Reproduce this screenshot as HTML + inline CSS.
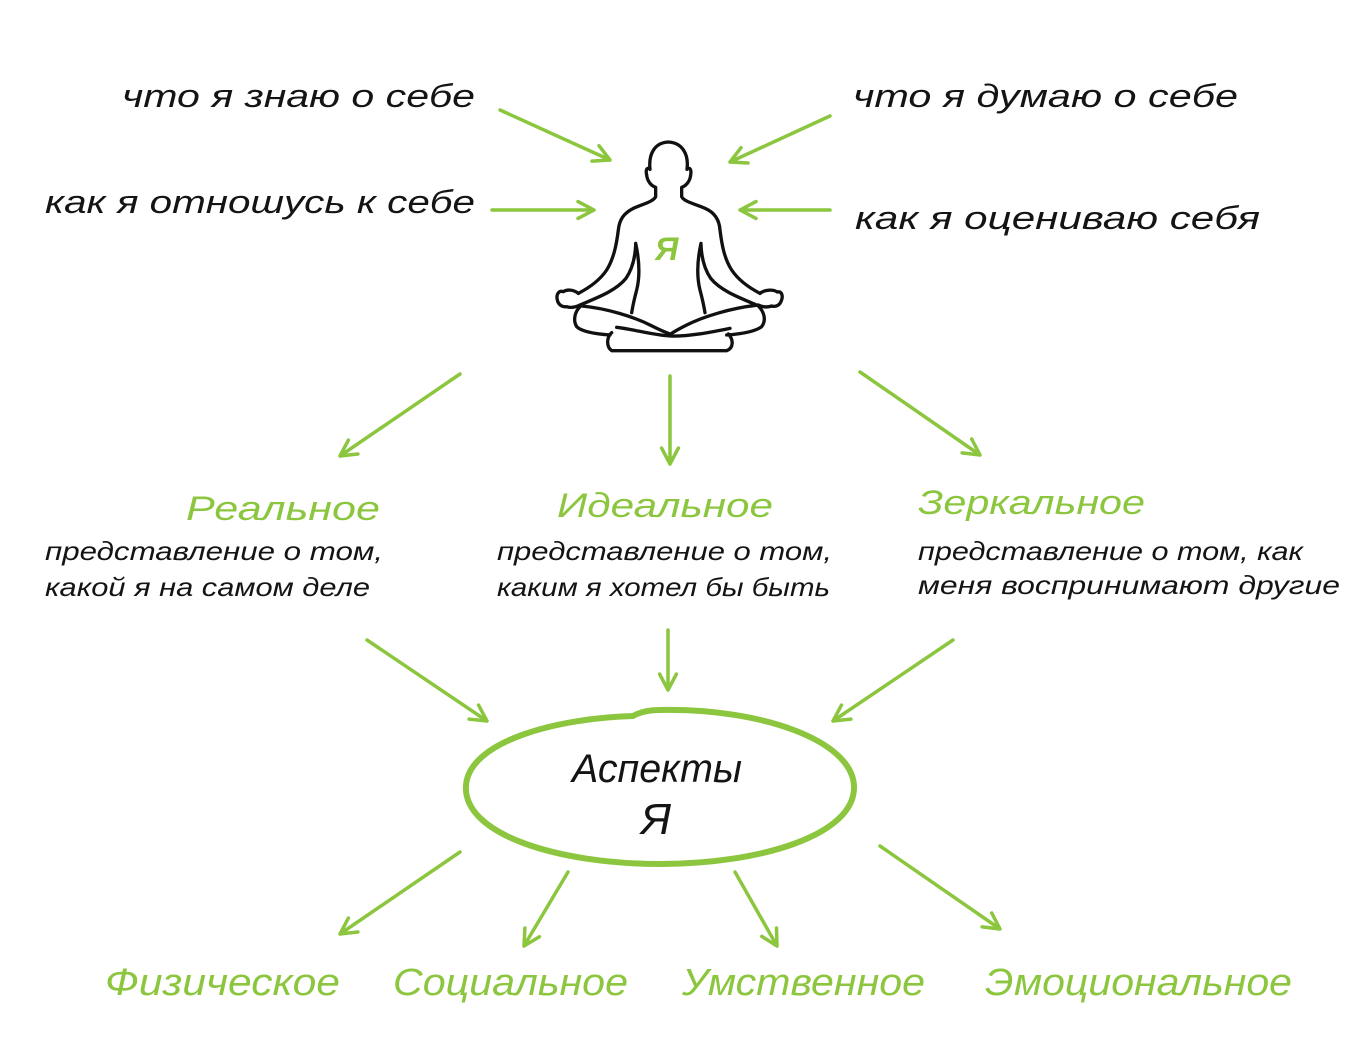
<!DOCTYPE html>
<html>
<head>
<meta charset="utf-8">
<style>
html,body{margin:0;padding:0;background:#fff;}
svg{display:block;}
.hw{font-family:"Liberation Sans","DejaVu Sans",sans-serif;font-style:italic;fill:#141414;}
.gr{font-family:"Liberation Sans","DejaVu Sans",sans-serif;font-style:italic;fill:#8cc63f;}
.ar{stroke:#8cc63f;stroke-width:3.5;fill:none;stroke-linecap:round;stroke-linejoin:round;}
</style>
</head>
<body>
<svg width="1366" height="1060" viewBox="0 0 1366 1060" xmlns="http://www.w3.org/2000/svg">
<rect width="1366" height="1060" fill="#fff"/>

<!-- top labels -->
<text class="hw" x="122" y="107" font-size="32" textLength="353" lengthAdjust="spacingAndGlyphs">что я знаю о себе</text>
<text class="hw" x="45" y="213" font-size="32" textLength="430" lengthAdjust="spacingAndGlyphs">как я отношусь к себе</text>
<text class="hw" x="853" y="107" font-size="32" textLength="385" lengthAdjust="spacingAndGlyphs">что я думаю о себе</text>
<text class="hw" x="855" y="229" font-size="32" textLength="405" lengthAdjust="spacingAndGlyphs">как я оцениваю себя</text>

<!-- top arrows -->
<g class="ar">
<path d="M500,110 L610,160 M599,145.7 L610,160 L592,161.1"/>
<path d="M830,116 L730,162 M748,163 L730,162 L741,147.7"/>
<path d="M492,210 L594,210 M578,201.6 L594,210 L578,218.4"/>
<path d="M830,210 L740,210 M756,201.6 L740,210 L756,218.4"/>
</g>

<!-- meditating figure -->
<g transform="translate(540,130) scale(0.33333)" fill="none" stroke="#111" stroke-width="10" stroke-linecap="round" stroke-linejoin="round">
<path d="M115,490 C150,472 180,450 200,420 C222,385 230,340 235,300 C238,270 250,250 280,235 C310,222 340,215 347,200 L347,172 C335,168 322,155 320,135 C316,118 322,110 330,118 C325,70 345,38 385,36 C425,38 447,70 441,118 C449,110 455,118 452,135 C450,155 437,168 425,172 L425,200 C432,215 465,222 495,235 C525,248 538,270 540,300 C545,340 552,385 575,420 C595,450 625,472 660,490"/>
<path d="M115,490 C100,478 80,478 70,485 C55,480 48,495 52,510 C55,525 68,532 80,530 C95,535 110,530 120,525"/>
<path d="M660,490 C675,478 700,478 712,486 C725,482 730,498 724,512 C720,525 708,532 695,528 C680,533 665,530 655,525"/>
<path d="M287,340 C298,390 300,440 290,480 C282,510 278,530 275,548"/>
<path d="M287,345 C285,390 275,420 258,445 C230,480 180,500 120,525"/>
<path d="M483,340 C472,390 470,440 480,480 C488,510 492,530 495,548"/>
<path d="M483,345 C485,390 495,420 512,445 C540,480 590,500 650,525"/>
<path d="M120,530 C105,545 98,570 110,590 C125,605 170,612 210,615"/>
<path d="M215,608 C200,620 198,650 215,662 L560,662 C580,655 582,630 565,612"/>
<path d="M655,528 C672,545 680,570 665,590 C645,605 600,612 560,615"/>
<path d="M125,528 C200,535 280,560 330,585 C360,600 380,610 392,612"/>
<path d="M648,526 C570,535 490,560 440,585 C410,600 395,610 392,612"/>
<path d="M230,592 C280,598 340,615 390,618 C450,620 520,605 570,595"/>
</g>
<text class="gr" x="655" y="260" font-size="32" font-weight="bold">Я</text>

<!-- middle arrows -->
<g class="ar">
<path d="M460,374 L340,456 M357.9,454 L340,456 L348.4,440.1"/>
<path d="M670,376 L670,464 M678.4,448.1 L670,464 L661.6,448.1"/>
<path d="M860,372 L980,455 M971.7,439 L980,455 L962.1,452.9"/>
</g>

<!-- three self-concepts -->
<text class="gr" x="186" y="520" font-size="34" textLength="194" lengthAdjust="spacingAndGlyphs">Реальное</text>
<text class="hw" x="45" y="560" font-size="26" textLength="338" lengthAdjust="spacingAndGlyphs">представление о том,</text>
<text class="hw" x="45" y="596" font-size="26" textLength="325" lengthAdjust="spacingAndGlyphs">какой я на самом деле</text>

<text class="gr" x="557" y="517" font-size="34" textLength="216" lengthAdjust="spacingAndGlyphs">Идеальное</text>
<text class="hw" x="497" y="560" font-size="26" textLength="335" lengthAdjust="spacingAndGlyphs">представление о том,</text>
<text class="hw" x="497" y="596" font-size="26" textLength="333" lengthAdjust="spacingAndGlyphs">каким я хотел бы быть</text>

<text class="gr" x="918" y="514" font-size="34" textLength="227" lengthAdjust="spacingAndGlyphs">Зеркальное</text>
<text class="hw" x="918" y="560" font-size="26" textLength="385" lengthAdjust="spacingAndGlyphs">представление о том, как</text>
<text class="hw" x="918" y="594" font-size="26" textLength="422" lengthAdjust="spacingAndGlyphs">меня воспринимают другие</text>

<!-- arrows to ellipse -->
<g class="ar">
<path d="M367,640 L487,721 M478.5,705.1 L487,721 L469.1,719.1"/>
<path d="M668,630 L668,690 M676.4,674.1 L668,690 L659.6,674.1"/>
<path d="M953,640 L833,721 M850.9,719.1 L833,721 L841.5,705.1"/>
</g>

<!-- ellipse -->
<path d="M633,716 C560,718 470,740 466,785 C462,835 560,864 660,864 C760,864 856,835 854,786 C852,740 760,708 660,710 C648,710 640,712 633,716 Z" fill="none" stroke="#8cc63f" stroke-width="6"/>
<text class="hw" x="572" y="782" font-size="40" textLength="170" lengthAdjust="spacingAndGlyphs">Аспекты</text>
<text class="hw" x="641" y="834" font-size="44">Я</text>

<!-- bottom arrows -->
<g class="ar">
<path d="M460,852 L340,934 M357.9,932 L340,934 L348.4,918.1"/>
<path d="M568,872 L524,946 M539.4,936.7 L524,946 L524.9,928"/>
<path d="M735,872 L777,946 M776.5,928 L777,946 L761.8,936.4"/>
<path d="M880,846 L1000,929 M991.7,913 L1000,929 L982.1,926.9"/>
</g>

<!-- bottom labels -->
<text class="gr" x="105" y="995" font-size="38" textLength="235" lengthAdjust="spacingAndGlyphs">Физическое</text>
<text class="gr" x="393" y="995" font-size="38" textLength="235" lengthAdjust="spacingAndGlyphs">Социальное</text>
<text class="gr" x="682" y="995" font-size="38" textLength="243" lengthAdjust="spacingAndGlyphs">Умственное</text>
<text class="gr" x="985" y="995" font-size="38" textLength="307" lengthAdjust="spacingAndGlyphs">Эмоциональное</text>
</svg>
</body>
</html>
